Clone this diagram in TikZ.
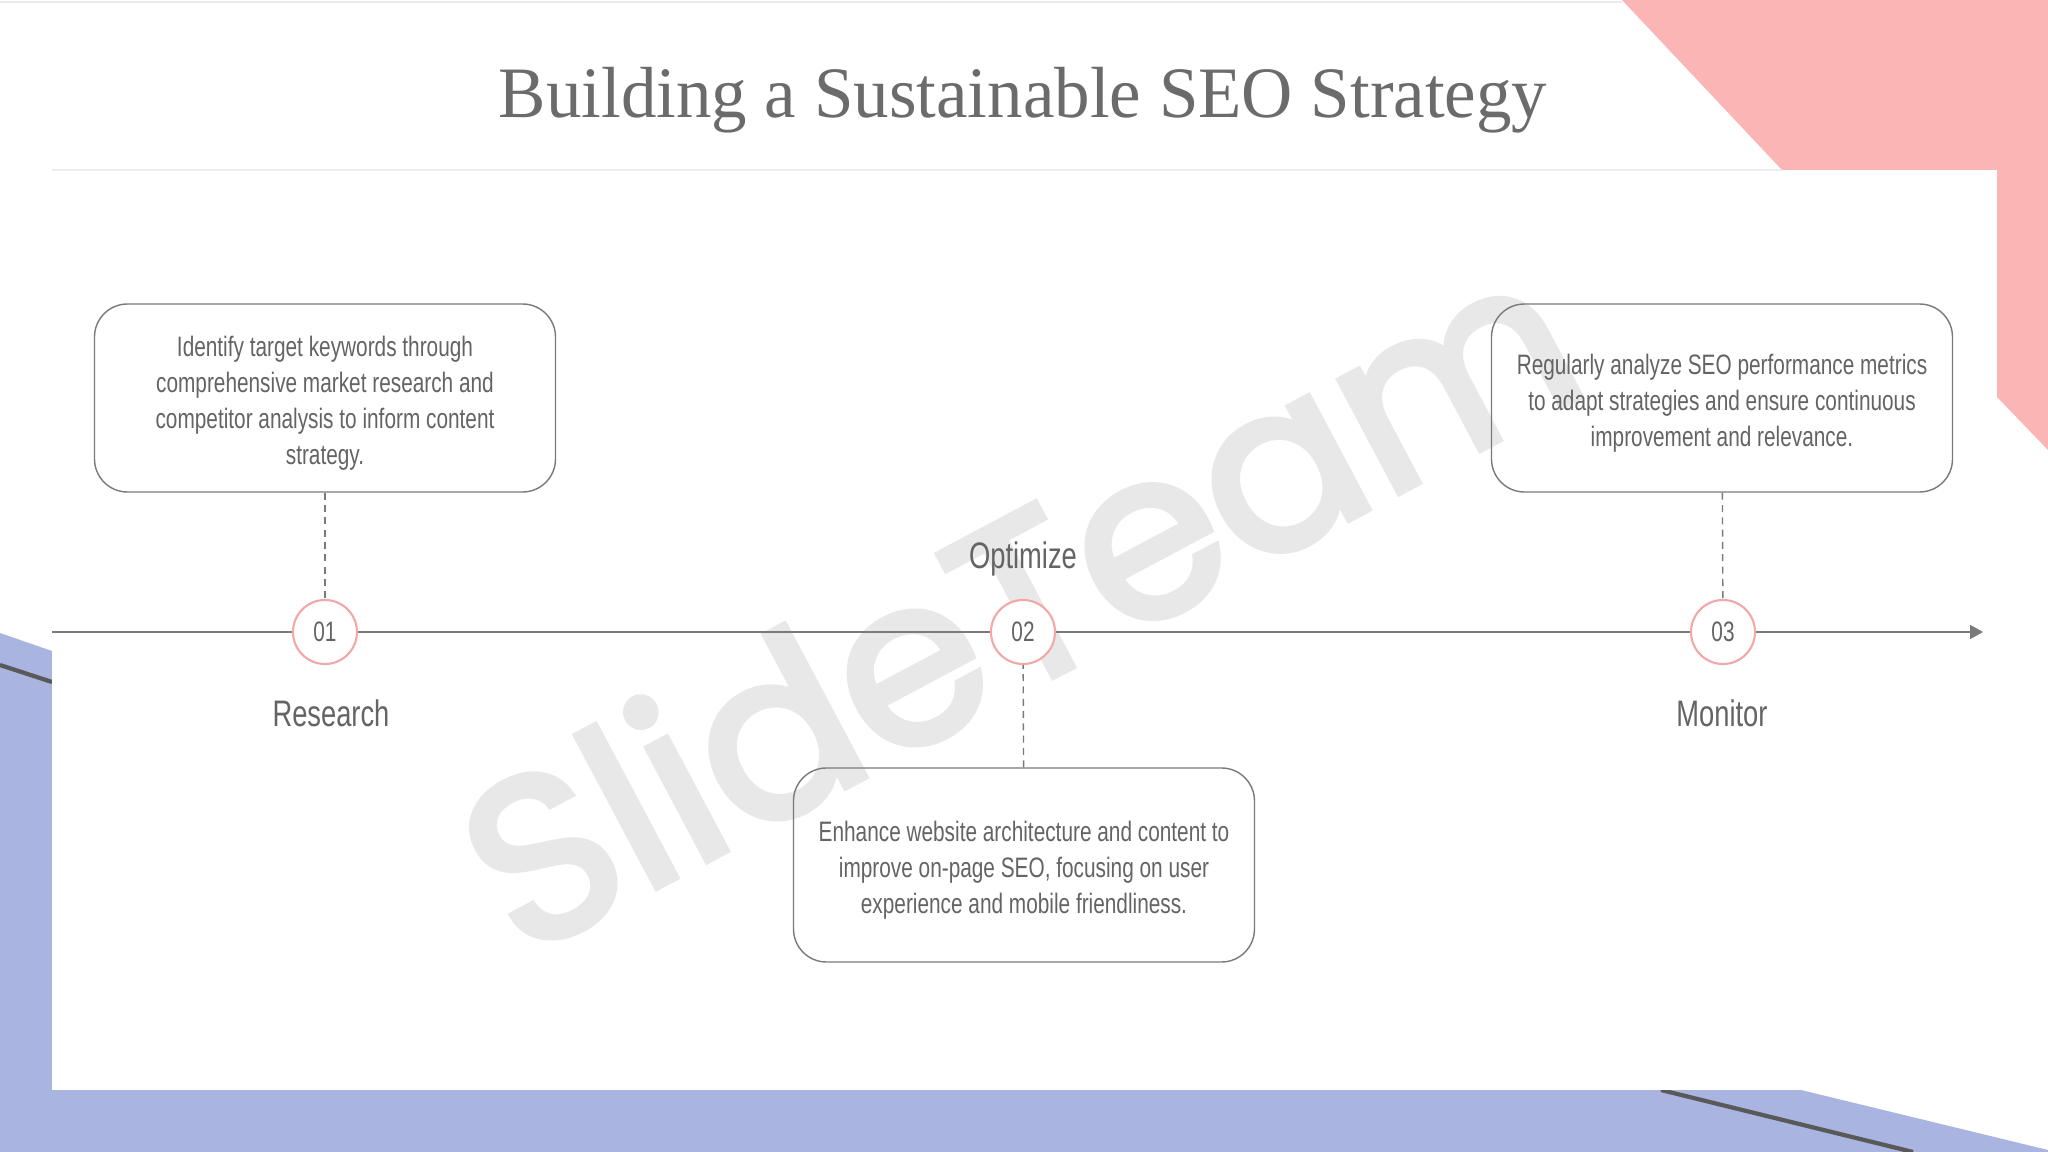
\documentclass[tikz,border=0pt]{standalone}
\usepackage{fontspec}
\setmainfont{Liberation Serif}
\newfontfamily\policetitre[FakeStretch=0.98]{Liberation Serif}
\newfontfamily\etroit[FakeStretch=0.74]{Liberation Sans}
\newfontfamily\filigrane[FakeBold=3]{Poppins}
\usepackage{tikz}
\usetikzlibrary{arrows.meta,positioning}
\definecolor{rose}{HTML}{FBB5B5}
\definecolor{rosecercle}{HTML}{F3A8A8}
\definecolor{lavande}{HTML}{AAB4E1}
\definecolor{gristexte}{HTML}{646464}
\definecolor{gristrait}{HTML}{7A7A7A}
\tikzset{
	boite/.style={draw=gristrait, line width=0.4pt, rounded corners=0.33cm, minimum width=4.61cm, minimum height=1.88cm, align=center, text=gristexte, font=\etroit\fontsize{8}{10.2}\selectfont},
	pastille/.style={circle, draw=rosecercle, line width=0.6pt, fill=white, minimum size=0.64cm, inner sep=0pt, text=gristexte, font=\etroit\fontsize{8}{9}\selectfont},
	etiquette/.style={anchor=base, text=gristexte, font=\etroit\fontsize{10.5}{12}\selectfont},
	pointilles/.style={draw=gristrait, line width=0.4pt, dash pattern=on 2pt off 1.5pt}
}
% texte de boite un peu plus bas que le centre
\newcommand{\decale}{\rule{0pt}{8.7pt}}
\begin{document}
\begin{tikzpicture}
	\useasboundingbox (0,0) rectangle (20.48,-11.52);
	% fond : coins rose et lavande
	\fill[rose] (16.22,0) -- (17.82,-1.70) -- (19.97,-1.70) -- (19.97,-3.97) -- (20.48,-4.50) -- (20.48,0) -- cycle;
	\fill[lavande] (0,-6.33) -- (0.52,-6.51) -- (0.52,-10.90) -- (18.01,-10.90) -- (20.48,-11.50) -- (20.48,-11.52) -- (0,-11.52) -- cycle;
	\draw[line width=1.2pt, black!65] (0,-6.65) -- (0.52,-6.82);
	\draw[line width=1.2pt, black!65] (16.61,-10.90) -- (19.13,-11.52);
	\fill[white] (0.52,-1.70) rectangle (19.97,-10.90);
	\draw[black!8, line width=0.6pt] (0,-0.02) -- (16.22,-0.02);
	\draw[black!7, line width=0.6pt] (0.52,-1.70) -- (17.82,-1.70);
	% filigrane
	\node[rotate=28, text=black!9, font=\filigrane\fontsize{66}{66}\selectfont] (filigrane) at (10.17,-5.97) {SlideTeam};
	% titre
	\node[anchor=base, text=black!58, font=\policetitre\fontsize{20.6}{24}\selectfont] (titre) at (10.23,-1.18) {Building a Sustainable SEO Strategy};
	% axe
	\coordinate (debut) at (0.52,-6.32);
	\coordinate (fin) at (19.83,-6.32);
	\draw[gristrait, line width=0.6pt, -{Triangle[length=0.13cm, width=0.14cm]}] (debut) -- (fin);
	\node[pastille] (p1) at (3.25,-6.32) {01};
	\node[pastille] (p2) at (10.23,-6.32) {02};
	\node[pastille] (p3) at (17.23,-6.32) {03};
	\node[etiquette] (recherche) at (3.31,-7.26) {Research};
	\node[etiquette] (optimiser) at (10.23,-5.69) {Optimize};
	\node[etiquette] (suivi) at (17.22,-7.26) {Monitor};
	% boites
	\node[boite] (b1) at (3.25,-3.98) {\decale Identify target keywords through\\comprehensive market research and\\competitor analysis to inform content\\strategy.};
	\node[boite, minimum height=1.94cm] (b2) at (10.24,-8.65) {\decale Enhance website architecture and content to\\improve on-page SEO, focusing on user\\experience and mobile friendliness.};
	\node[boite] (b3) at (17.22,-3.98) {\decale Regularly analyze SEO performance metrics\\to adapt strategies and ensure continuous\\improvement and relevance.};
	\draw[pointilles] (b1) -- (p1);
	\draw[pointilles] (b2) -- (p2);
	\draw[pointilles] (b3) -- (p3);
\end{tikzpicture}
\end{document}
